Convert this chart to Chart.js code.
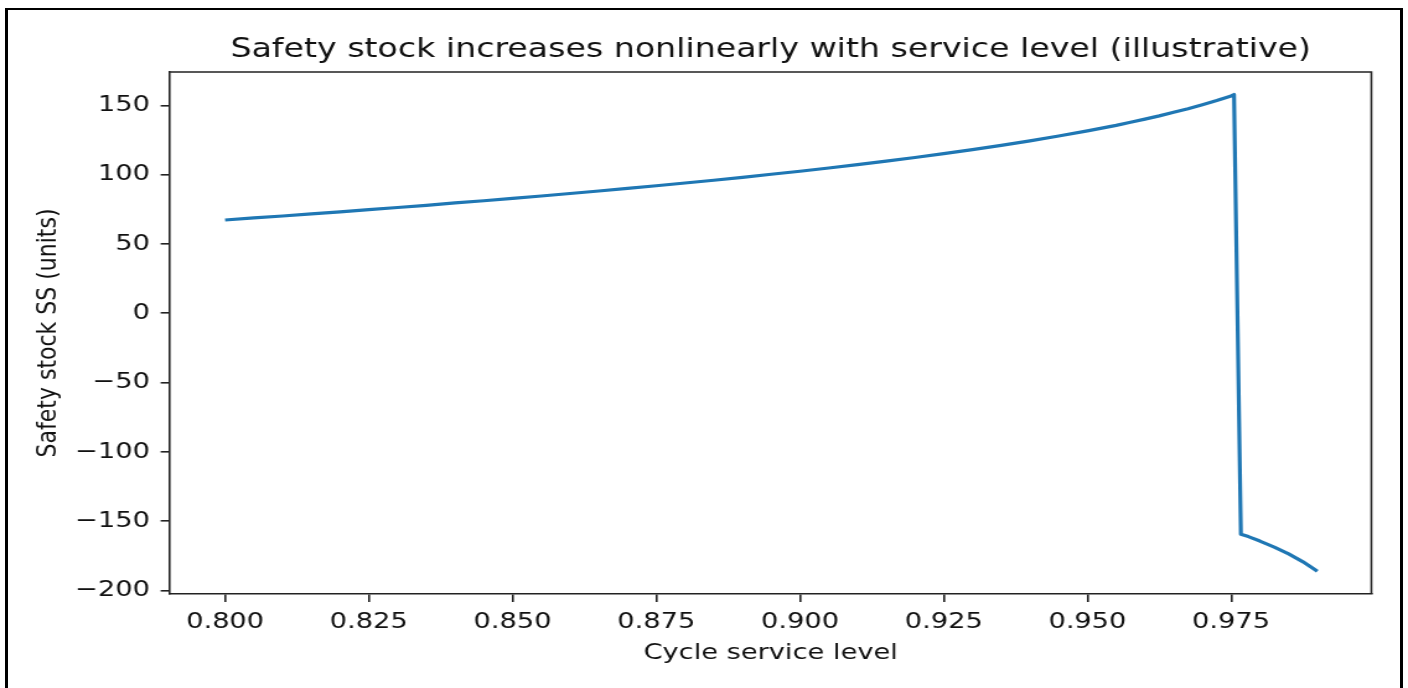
<!DOCTYPE html>
<html>
<head>
<meta charset="utf-8">
<script src="https://cdn.jsdelivr.net/npm/chart.js@4/dist/chart.umd.min.js"></script>
<style>
  html, body { margin: 0; padding: 0; background: #fff; overflow: hidden; }
  #page { position: relative; width: 1408px; height: 688px; overflow: hidden; background: #fff; }
  #stage { position: absolute; left: 0; top: 0; width: 1136px; height: 688px;
           transform: scaleX(1.2394); transform-origin: 0 0; }
  #frame { position: absolute; left: 5px; top: 8px; width: 1398px; height: 700px;
           box-sizing: border-box; border-left: 3px solid #000; border-right: 3px solid #000;
           border-top: 2px solid #000; pointer-events: none; }
</style>
</head>
<body>
<div id="page">
  <div id="stage"><canvas id="chart" width="1136" height="688"></canvas></div>
  <div id="frame"></div>
</div>
<script>
// Cycle service level (x) and resulting safety stock in units (y)
const serviceLevels = [
  0.800, 0.805, 0.810, 0.815, 0.820, 0.825, 0.830, 0.835, 0.840, 0.845,
  0.850, 0.855, 0.860, 0.865, 0.870, 0.875, 0.880, 0.885, 0.890, 0.895,
  0.900, 0.905, 0.910, 0.915, 0.920, 0.925, 0.930, 0.935, 0.940, 0.945,
  0.950, 0.9525, 0.955, 0.9575, 0.960, 0.9625, 0.965, 0.9675, 0.970, 0.9725,
  0.975, 0.9755, 0.9767, 0.978, 0.980, 0.9825, 0.985, 0.9875, 0.990
];
const safetyStock = [
  67.3, 68.8, 70.2, 71.7, 73.2, 74.8, 76.3, 77.9, 79.6, 81.2,
  82.9, 84.6, 86.4, 88.2, 90.1, 92.0, 94.0, 96.0, 98.1, 100.3,
  102.5, 104.8, 107.3, 109.8, 112.4, 115.2, 118.1, 121.1, 124.4, 127.9,
  131.6, 133.6, 135.6, 137.8, 140.1, 142.4, 145.0, 147.6, 150.5, 153.5,
  156.8, 157.8, -159.4, -161.1, -164.3, -168.7, -173.6, -179.3, -186.1
];

const xTicks = [0.800, 0.825, 0.850, 0.875, 0.900, 0.925, 0.950, 0.975];
const xTickLabels = ['0.800', '0.825', '0.850', '0.875', '0.900', '0.925', '0.950', '0.975'];
const yTicks = [-200, -150, -100, -50, 0, 50, 100, 150];
const yTickLabels = ['\u2212200', '\u2212150', '\u2212100', '\u221250', '0', '50', '100', '150'];

const FONT = '"DejaVu Sans", "Liberation Sans", sans-serif';
const INK = '#111';
const SPINE = '#222';

// white canvas plus the top and right frame of the plot area
const framePlugin = {
  id: 'framePlugin',
  beforeDraw(chart) {
    const ctx = chart.ctx;
    ctx.save();
    ctx.fillStyle = '#fff';
    ctx.fillRect(0, 0, chart.width, chart.height);
    ctx.restore();
  },
  afterDraw(chart) {
    const { ctx, chartArea: a } = chart;
    ctx.save();
    ctx.strokeStyle = SPINE;
    ctx.lineWidth = 1.6;
    ctx.beginPath();
    ctx.moveTo(a.left, a.top);
    ctx.lineTo(a.right, a.top);
    ctx.lineTo(a.right, a.bottom);
    ctx.stroke();
    ctx.restore();
  }
};

new Chart(document.getElementById('chart'), {
  type: 'line',
  data: {
    datasets: [{
      data: serviceLevels.map((x, i) => ({ x, y: safetyStock[i] })),
      borderColor: '#1f77b4',
      borderWidth: 3.2,
      pointRadius: 0,
      tension: 0,
      borderJoinStyle: 'round',
      fill: false
    }]
  },
  options: {
    responsive: false,
    animation: false,
    devicePixelRatio: 1,
    layout: { padding: { left: 0, right: 29.5, top: 0, bottom: 0 } },
    plugins: {
      legend: { display: false },
      tooltip: { enabled: false },
      title: {
        display: true,
        fullSize: false,
        text: 'Safety stock increases nonlinearly with service level (illustrative)',
        color: INK,
        font: { family: FONT, size: 26.8, weight: 'normal', lineHeight: 1.2 },
        padding: { top: 34.3, bottom: 5.5 }
      }
    },
    scales: {
      x: {
        type: 'linear',
        min: 0.7904,
        max: 0.9994,
        afterBuildTicks(scale) { scale.ticks = xTicks.map(v => ({ value: v })); },
        afterFit(scale) { scale.height = 94; },
        grid: { drawOnChartArea: false, drawTicks: true, tickLength: 8, color: SPINE, lineWidth: 1.6 },
        border: { display: true, color: SPINE, width: 1.6 },
        ticks: {
          autoSkip: false, maxRotation: 0, minRotation: 0, padding: 7,
          color: INK, font: { family: FONT, size: 22, lineHeight: 1.2 },
          callback: (value, index) => xTickLabels[index]
        },
        title: {
          display: true, text: 'Cycle service level', color: INK,
          font: { family: FONT, size: 22, lineHeight: 1.2 },
          padding: { top: 4, bottom: 21.3 }
        }
      },
      y: {
        type: 'linear',
        min: -202.5,
        max: 174.1,
        afterBuildTicks(scale) { scale.ticks = yTicks.map(v => ({ value: v })); },
        afterFit(scale) { scale.width = 137.1; },
        grid: { drawOnChartArea: false, drawTicks: true, tickLength: 7.5, color: SPINE, lineWidth: 1.6 },
        border: { display: true, color: SPINE, width: 1.6 },
        ticks: {
          autoSkip: false, padding: 8.6,
          color: INK, font: { family: FONT, size: 22, lineHeight: 1.2 },
          callback: (value, index) => yTickLabels[index]
        },
        title: {
          display: true, text: 'Safety stock SS (units)', color: INK,
          font: { family: FONT, size: 22, lineHeight: 1.2 },
          padding: { top: 26.3, bottom: 4 }
        }
      }
    }
  },
  plugins: [framePlugin]
});
</script>
</body>
</html>
